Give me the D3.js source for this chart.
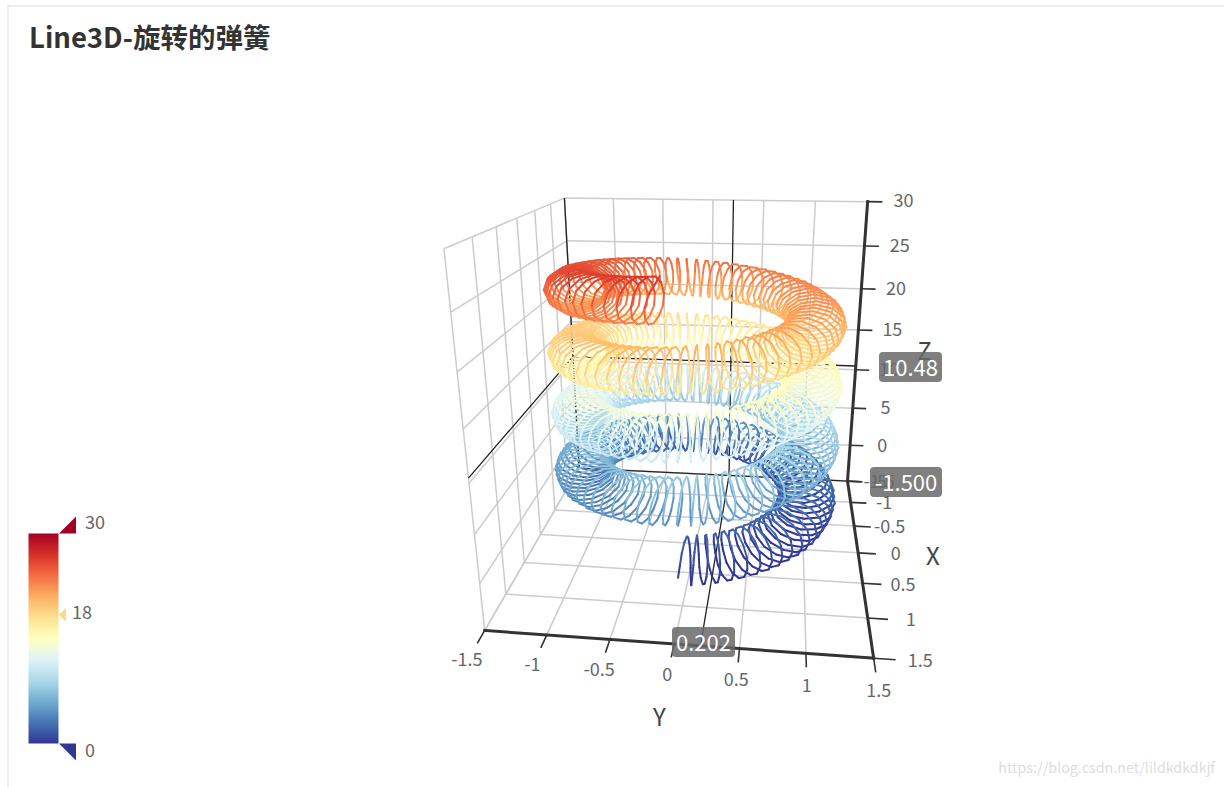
<!DOCTYPE html>
<html><head><meta charset="utf-8">
<script src="https://cdn.jsdelivr.net/npm/d3@7"></script>
<style>html,body{margin:0;padding:0;background:#fff;overflow:hidden}svg{display:block}</style>
</head><body><svg id="c" width="1224" height="787"></svg>
<script>
const titleText = "Line3D-旋转的弹簧";
const watermarkText = "https://blog.csdn.net/lildkdkdkjf";
const xyTicks = [-1.5,-1,-0.5,0,0.5,1,1.5];
const zTicks = [-5,0,5,10,15,20,25,30];
const palette = ['#313695','#4575b4','#74add1','#abd9e9','#e0f3f8','#ffffbf','#fee090','#fdae61','#f46d43','#d73027','#a50026'];
const pointerValues = {x:-1.5, y:0.202, z:10.48};
const legendRange = [0,30];
const legendIndicator = 18.4;

// Spring samples: one turn of x and y, z for the whole length
const xPerTurn = [1.25,1,.75,1,1.25,.99,.74,.99,1.23,.98,.73,.97,1.21,.96,.72,.95,1.17,.93,.69,.92,1.13,.9,.67,.88,1.08,.85,.63,.83,1.02,.81,.59,.78,.96,.75,.55,.72,.88,.69,.51,.66,.8,.63,.46,.59,.72,.56,.4,.52,.63,.48,.35,.44,.53,.4,.29,.36,.43,.32,.23,.28,.32,.24,.16,.2,.22,.15,.1,.11,.11,.07,.03,.02,
0,-.02,-.03,-.07,-.11,-.11,-.1,-.15,-.22,-.2,-.16,-.24,-.32,-.28,-.23,-.32,-.43,-.36,-.29,-.4,-.53,-.44,-.35,-.48,-.63,-.52,-.4,-.56,-.72,-.59,-.46,-.63,-.8,-.66,-.51,-.69,-.88,-.72,-.55,-.75,-.96,-.78,-.59,-.81,-1.02,-.83,-.63,-.85,-1.08,-.88,-.67,-.9,-1.13,-.92,-.69,-.93,-1.17,-.95,-.72,-.96,-1.21,-.97,-.73,-.99,-1.23,-.99,-.74,-.99,-1.25,-1,-.75,-1,
-1.25,-1,-.75,-1,-1.25,-.99,-.74,-.99,-1.23,-.98,-.73,-.97,-1.21,-.96,-.72,-.95,-1.17,-.93,-.69,-.92,-1.13,-.9,-.67,-.88,-1.08,-.85,-.63,-.83,-1.02,-.81,-.59,-.78,-.96,-.75,-.55,-.72,-.88,-.69,-.51,-.66,-.8,-.63,-.46,-.59,-.72,-.56,-.4,-.52,-.63,-.48,-.35,-.44,-.53,-.4,-.29,-.36,-.43,-.32,-.23,-.28,-.32,-.24,-.16,-.2,-.22,-.15,-.1,-.11,-.11,-.07,-.03,-.02,
0,.02,.03,.07,.11,.11,.1,.15,.22,.2,.16,.24,.32,.28,.23,.32,.43,.36,.29,.4,.53,.44,.35,.48,.63,.52,.4,.56,.72,.59,.46,.63,.8,.66,.51,.69,.88,.72,.55,.75,.96,.78,.59,.81,1.02,.83,.63,.85,1.08,.88,.67,.9,1.13,.92,.69,.93,1.17,.95,.72,.96,1.21,.97,.73,.99,1.23,.99,.74,.99,1.25,1,.75,1];
const yPerTurn = [0,.02,.03,.07,.11,.11,.1,.15,.22,.2,.16,.24,.32,.28,.23,.32,.43,.36,.29,.4,.53,.44,.35,.48,.63,.52,.4,.56,.72,.59,.46,.63,.8,.66,.51,.69,.88,.72,.55,.75,.96,.78,.59,.81,1.02,.83,.63,.85,1.08,.88,.67,.9,1.13,.92,.69,.93,1.17,.95,.72,.96,1.21,.97,.73,.99,1.23,.99,.74,.99,1.25,1,.75,1,
1.25,1,.75,1,1.25,.99,.74,.99,1.23,.98,.73,.97,1.21,.96,.72,.95,1.17,.93,.69,.92,1.13,.9,.67,.88,1.08,.85,.63,.83,1.02,.81,.59,.78,.96,.75,.55,.72,.88,.69,.51,.66,.8,.63,.46,.59,.72,.56,.4,.52,.63,.48,.35,.44,.53,.4,.29,.36,.43,.32,.23,.28,.32,.24,.16,.2,.22,.15,.1,.11,.11,.07,.03,.02,
0,-.02,-.03,-.07,-.11,-.11,-.1,-.15,-.22,-.2,-.16,-.24,-.32,-.28,-.23,-.32,-.43,-.36,-.29,-.4,-.53,-.44,-.35,-.48,-.63,-.52,-.4,-.56,-.72,-.59,-.46,-.63,-.8,-.66,-.51,-.69,-.88,-.72,-.55,-.75,-.96,-.78,-.59,-.81,-1.02,-.83,-.63,-.85,-1.08,-.88,-.67,-.9,-1.13,-.92,-.69,-.93,-1.17,-.95,-.72,-.96,-1.21,-.97,-.73,-.99,-1.23,-.99,-.74,-.99,-1.25,-1,-.75,-1,
-1.25,-1,-.75,-1,-1.25,-.99,-.74,-.99,-1.23,-.98,-.73,-.97,-1.21,-.96,-.72,-.95,-1.17,-.93,-.69,-.92,-1.13,-.9,-.67,-.88,-1.08,-.85,-.63,-.83,-1.02,-.81,-.59,-.78,-.96,-.75,-.55,-.72,-.88,-.69,-.51,-.66,-.8,-.63,-.46,-.59,-.72,-.56,-.4,-.52,-.63,-.48,-.35,-.44,-.53,-.4,-.29,-.36,-.43,-.32,-.23,-.28,-.32,-.24,-.16,-.2,-.22,-.15,-.1,-.11,-.11,-.07,-.03,-.02];
const zValues = [0,2.02,.04,-1.93,.09,2.11,.13,-1.84,.17,2.19,.21,-1.76,.26,2.28,.3,-1.67,.35,2.37,.39,-1.58,.44,2.46,.48,-1.49,.52,2.54,.56,-1.41,.61,2.63,.65,-1.32,
.7,2.72,.74,-1.23,.79,2.81,.83,-1.14,.87,2.89,.91,-1.06,.96,2.98,1,-.97,1.05,3.07,1.09,-.88,1.13,3.15,1.17,-.8,1.22,3.24,1.26,-.71,1.31,3.33,1.35,-.62,
1.4,3.42,1.44,-.53,1.48,3.5,1.52,-.45,1.57,3.59,1.61,-.36,1.66,3.68,1.7,-.27,1.75,3.77,1.79,-.18,1.83,3.85,1.87,-.1,1.92,3.94,1.96,-.01,2.01,4.03,2.05,.08,
2.09,4.11,2.13,.16,2.18,4.2,2.22,.25,2.27,4.29,2.31,.34,2.36,4.38,2.4,.43,2.44,4.46,2.48,.51,2.53,4.55,2.57,.6,2.62,4.64,2.66,.69,2.71,4.73,2.75,.78,
2.79,4.81,2.83,.86,2.88,4.9,2.92,.95,2.97,4.99,3.01,1.04,3.05,5.07,3.09,1.12,3.14,5.16,3.18,1.21,3.23,5.25,3.27,1.3,3.32,5.34,3.36,1.39,3.4,5.42,3.44,1.47,
3.49,5.51,3.53,1.56,3.58,5.6,3.62,1.65,3.67,5.69,3.71,1.74,3.75,5.77,3.79,1.82,3.84,5.86,3.88,1.91,3.93,5.95,3.97,2,4.01,6.03,4.05,2.08,4.1,6.12,4.14,2.17,
4.19,6.21,4.23,2.26,4.28,6.3,4.32,2.35,4.36,6.38,4.4,2.43,4.45,6.47,4.49,2.52,4.54,6.56,4.58,2.61,4.63,6.65,4.67,2.7,4.71,6.73,4.75,2.78,4.8,6.82,4.84,2.87,
4.89,6.91,4.93,2.96,4.97,6.99,5.01,3.04,5.06,7.08,5.1,3.13,5.15,7.17,5.19,3.22,5.24,7.26,5.28,3.31,5.32,7.34,5.36,3.39,5.41,7.43,5.45,3.48,5.5,7.52,5.54,3.57,
5.59,7.61,5.63,3.66,5.67,7.69,5.71,3.74,5.76,7.78,5.8,3.83,5.85,7.87,5.89,3.92,5.93,7.95,5.97,4,6.02,8.04,6.06,4.09,6.11,8.13,6.15,4.18,6.2,8.22,6.24,4.27,
6.28,8.3,6.32,4.35,6.37,8.39,6.41,4.44,6.45,8.47,6.49,4.52,6.54,8.56,6.58,4.61,6.63,8.65,6.67,4.7,6.72,8.74,6.76,4.79,6.8,8.82,6.84,4.87,6.89,8.91,6.93,4.96,
6.98,9,7.02,5.05,7.07,9.09,7.11,5.14,7.15,9.17,7.19,5.22,7.24,9.26,7.28,5.31,7.33,9.35,7.37,5.4,7.41,9.43,7.45,5.48,7.5,9.52,7.54,5.57,7.59,9.61,7.63,5.66,
7.68,9.7,7.72,5.75,7.76,9.78,7.8,5.83,7.85,9.87,7.89,5.92,7.94,9.96,7.98,6.01,8.03,10.05,8.07,6.1,8.11,10.13,8.15,6.18,8.2,10.22,8.24,6.27,8.29,10.31,8.33,6.36,
8.37,10.39,8.41,6.44,8.46,10.48,8.5,6.53,8.55,10.57,8.59,6.62,8.64,10.66,8.68,6.71,8.72,10.74,8.76,6.79,8.81,10.83,8.85,6.88,8.9,10.92,8.94,6.97,8.99,11.01,9.03,7.06,
9.07,11.09,9.11,7.14,9.16,11.18,9.2,7.23,9.25,11.27,9.29,7.32,9.33,11.35,9.37,7.4,9.42,11.44,9.46,7.49,9.51,11.53,9.55,7.58,9.6,11.62,9.64,7.67,9.68,11.7,9.72,7.75,
9.77,11.79,9.81,7.84,9.86,11.88,9.9,7.93,9.95,11.97,9.99,8.02,10.03,12.05,10.07,8.1,10.12,12.14,10.16,8.19,10.21,12.23,10.25,8.28,10.29,12.31,10.33,8.36,10.38,12.4,10.42,8.45,
10.47,12.49,10.51,8.54,10.56,12.58,10.6,8.63,10.64,12.66,10.68,8.71,10.73,12.75,10.77,8.8,10.82,12.84,10.86,8.89,10.91,12.93,10.95,8.98,10.99,13.01,11.03,9.06,11.08,13.1,11.12,9.15,
11.17,13.19,11.21,9.24,11.25,13.27,11.29,9.32,11.34,13.36,11.38,9.41,11.43,13.45,11.47,9.5,11.52,13.54,11.56,9.59,11.6,13.62,11.64,9.67,11.69,13.71,11.73,9.76,11.78,13.8,11.82,9.85,
11.87,13.89,11.91,9.94,11.95,13.97,11.99,10.02,12.04,14.06,12.08,10.11,12.13,14.15,12.17,10.2,12.21,14.23,12.25,10.28,12.3,14.32,12.34,10.37,12.39,14.41,12.43,10.46,12.48,14.5,12.52,10.55,
12.57,14.59,12.61,10.64,12.66,14.68,12.7,10.73,12.74,14.76,12.78,10.81,12.83,14.85,12.87,10.9,12.92,14.94,12.96,10.99,13.01,15.03,13.05,11.08,13.09,15.11,13.13,11.16,13.18,15.2,13.22,11.25,
13.27,15.29,13.31,11.34,13.36,15.38,13.4,11.43,13.44,15.46,13.48,11.51,13.53,15.55,13.57,11.6,13.62,15.64,13.66,11.69,13.7,15.72,13.74,11.77,13.79,15.81,13.83,11.86,13.88,15.9,13.92,11.95,
13.97,15.99,14.01,12.04,14.05,16.07,14.09,12.12,14.14,16.16,14.18,12.21,14.23,16.25,14.27,12.3,14.32,16.34,14.36,12.39,14.4,16.42,14.44,12.47,14.49,16.51,14.53,12.56,14.58,16.6,14.62,12.65,
14.66,16.68,14.7,12.73,14.75,16.77,14.79,12.82,14.84,16.86,14.88,12.91,14.93,16.95,14.97,13,15.01,17.03,15.05,13.08,15.1,17.12,15.14,13.17,15.19,17.21,15.23,13.26,15.28,17.3,15.32,13.35,
15.36,17.38,15.4,13.43,15.45,17.47,15.49,13.52,15.54,17.56,15.58,13.61,15.62,17.64,15.66,13.69,15.71,17.73,15.75,13.78,15.8,17.82,15.84,13.87,15.89,17.91,15.93,13.96,15.97,17.99,16.01,14.04,
16.06,18.08,16.1,14.13,16.15,18.17,16.19,14.22,16.24,18.26,16.28,14.31,16.32,18.34,16.36,14.39,16.41,18.43,16.45,14.48,16.5,18.52,16.54,14.57,16.58,18.6,16.62,14.65,16.67,18.69,16.71,14.74,
16.76,18.78,16.8,14.83,16.85,18.87,16.89,14.92,16.93,18.95,16.97,15,17.02,19.04,17.06,15.09,17.11,19.13,17.15,15.18,17.2,19.22,17.24,15.27,17.28,19.3,17.32,15.35,17.37,19.39,17.41,15.44,
17.46,19.48,17.5,15.53,17.54,19.56,17.58,15.61,17.63,19.65,17.67,15.7,17.72,19.74,17.76,15.79,17.81,19.83,17.85,15.88,17.89,19.91,17.93,15.96,17.98,20,18.02,16.05,18.07,20.09,18.11,16.14,
18.16,20.18,18.2,16.23,18.24,20.26,18.28,16.31,18.33,20.35,18.37,16.4,18.42,20.44,18.46,16.49,18.5,20.52,18.54,16.57,18.59,20.61,18.63,16.66,18.68,20.7,18.72,16.75,18.77,20.79,18.81,16.84,
18.85,20.87,18.89,16.92,18.94,20.96,18.98,17.01,19.02,21.04,19.06,17.09,19.11,21.13,19.15,17.18,19.2,21.22,19.24,17.27,19.29,21.31,19.33,17.36,19.37,21.39,19.41,17.44,19.46,21.48,19.5,17.53,
19.55,21.57,19.59,17.62,19.64,21.66,19.68,17.71,19.72,21.74,19.76,17.79,19.81,21.83,19.85,17.88,19.9,21.92,19.94,17.97,19.98,22,20.02,18.05,20.07,22.09,20.11,18.14,20.16,22.18,20.2,18.23,
20.25,22.27,20.29,18.32,20.33,22.35,20.37,18.4,20.42,22.44,20.46,18.49,20.51,22.53,20.55,18.58,20.6,22.62,20.64,18.67,20.68,22.7,20.72,18.75,20.77,22.79,20.81,18.84,20.86,22.88,20.9,18.93,
20.94,22.96,20.98,19.01,21.03,23.05,21.07,19.1,21.12,23.14,21.16,19.19,21.21,23.23,21.25,19.28,21.29,23.31,21.33,19.36,21.38,23.4,21.42,19.45,21.47,23.49,21.51,19.54,21.56,23.58,21.6,19.63,
21.64,23.66,21.68,19.71,21.73,23.75,21.77,19.8,21.82,23.84,21.86,19.89,21.9,23.92,21.94,19.97,21.99,24.01,22.03,20.06,22.08,24.1,22.12,20.15,22.17,24.19,22.21,20.24,22.25,24.27,22.29,20.32,
22.34,24.36,22.38,20.41,22.43,24.45,22.47,20.5,22.52,24.54,22.56,20.59,22.6,24.62,22.64,20.67,22.69,24.71,22.73,20.76,22.78,24.8,22.82,20.85,22.86,24.88,22.9,20.93,22.95,24.97,22.99,21.02,
23.04,25.06,23.08,21.11,23.13,25.15,23.17,21.2,23.21,25.23,23.25,21.28,23.3,25.32,23.34,21.37,23.39,25.41,23.43,21.46,23.48,25.5,23.52,21.55,23.56,25.58,23.6,21.63,23.65,25.67,23.69,21.72,
23.74,25.76,23.78,21.81,23.82,25.84,23.86,21.89,23.91,25.93,23.95,21.98,24,26.02,24.04,22.07,24.09,26.11,24.13,22.16,24.17,26.19,24.21,22.24,24.26,26.28,24.3,22.33,24.35,26.37,24.39,22.42,
24.44,26.46,24.48,22.51,24.52,26.54,24.56,22.59,24.61,26.63,24.65,22.68,24.7,26.72,24.74,22.77,24.78,26.8,24.82,22.85,24.87,26.89,24.91,22.94,24.96,26.98];

const FONT = '"Noto Sans CJK SC","Noto Sans",sans-serif';
const svg = d3.select('#c');

// scales: data -> normalised box coordinates
const sx = d3.scaleLinear().domain([-1.5,1.5]).range([-1,1]);
const sy = d3.scaleLinear().domain([-1.5,1.5]).range([-1,1]);
const sz = d3.scaleLinear().domain([-5,30]).range([-1,1]);
const color = d3.scaleLinear().domain(d3.range(11).map(i=>i*3)).range(palette).clamp(true);

// camera: fitted to the visible corners of the 3D box (layout, not data)
const corners = [
 [ 1.5, 1.5,-5,873.3,658.3],[ 1.5,-1.5,-5,485,630.7],[-1.5, 1.5,-5,847.7,481],[-1.5,-1.5,-5,579,468],
 [-1.5, 1.5,30,867.7,201.7],[-1.5,-1.5,30,564.3,198.3],[ 1.5,-1.5,30,444,248.3]];
function solve(A,b){const n=b.length,M=A.map((r,i)=>[...r,b[i]]);
 for(let c=0;c<n;c++){let p=c;for(let r=c+1;r<n;r++)if(Math.abs(M[r][c])>Math.abs(M[p][c]))p=r;[M[c],M[p]]=[M[p],M[c]];
  for(let r=0;r<n;r++)if(r!==c){const f=M[r][c]/M[c][c];for(let k=c;k<=n;k++)M[r][k]-=f*M[c][k];}}
 return M.map((r,i)=>r[n]/r[i]);}
const H=(()=>{const R=[],B=[];corners.forEach(([x,y,z,u,v])=>{const X=sx(x),Y=sy(y),Z=sz(z);
 R.push([X,Y,Z,1,0,0,0,0,-u*X,-u*Y,-u*Z]);B.push(u);R.push([0,0,0,0,X,Y,Z,1,-v*X,-v*Y,-v*Z]);B.push(v);});
 const AtA=d3.range(11).map(i=>d3.range(11).map(j=>d3.sum(R,r=>r[i]*r[j])));
 const Atb=d3.range(11).map(i=>d3.sum(R,(r,k)=>r[i]*B[k]));return solve(AtA,Atb);})();
function projN(X,Y,Z){const w=H[8]*X+H[9]*Y+H[10]*Z+1;return [(H[0]*X+H[1]*Y+H[2]*Z+H[3])/w,(H[4]*X+H[5]*Y+H[6]*Z+H[7])/w,w];}
const proj=(x,y,z)=>projN(sx(x),sy(y),sz(z));
const lineGen=d3.line();
const seg=(a,b)=>lineGen([proj(...a),proj(...b)].map(p=>[p[0],p[1]]));

// frame
svg.append('path').attr('d','M8 787V6H1224').attr('fill','none').attr('stroke','#eee').attr('stroke-width',2);

// grid walls
const grid=svg.append('g').attr('stroke','#ccc').attr('stroke-width',1.5).attr('fill','none');
const gridSegs=[];
xyTicks.forEach(v=>{
 gridSegs.push([[v,-1.5,-5],[v,1.5,-5]],[[-1.5,v,-5],[1.5,v,-5]],[[-1.5,v,-5],[-1.5,v,30]],[[v,-1.5,-5],[v,-1.5,30]]);});
zTicks.forEach(v=>{gridSegs.push([[-1.5,-1.5,v],[-1.5,1.5,v]],[[-1.5,-1.5,v],[1.5,-1.5,v]]);});
grid.selectAll('path').data(gridSegs).join('path').attr('d',d=>seg(d[0],d[1]));

// pointer lines
const P=pointerValues;
const ptrSegs=[[[1.5,P.y,-5],[-1.5,P.y,-5]],[[-1.5,P.y,-5],[-1.5,P.y,30]],[[-1.5,-1.5,P.z],[-1.5,1.5,P.z]],[[1.5,-1.5,P.z],[-1.5,-1.5,P.z]],
 [[P.x,-1.5,-5],[P.x,1.5,-5]],[[P.x,-1.5,-5],[P.x,-1.5,30]]];
svg.append('g').attr('stroke','#222').attr('stroke-width',1.3).attr('fill','none')
 .selectAll('path').data(ptrSegs).join('path').attr('d',d=>seg(d[0],d[1]));

// axes and ticks
const axisSegs=[[[1.5,-1.5,-5],[1.5,1.5,-5]],[[1.5,1.5,-5],[-1.5,1.5,-5]],[[-1.5,1.5,-5],[-1.5,1.5,30]]];
const axes=svg.append('g').attr('stroke','#333').attr('fill','none');
axes.selectAll('path.a').data(axisSegs).join('path').attr('class','a').attr('stroke-width',3).attr('stroke-linecap','square').attr('d',d=>seg(d[0],d[1]));
const tickSegs=[...xyTicks.map(v=>[[1.5,v,-5],[1.66,v,-5]]),...xyTicks.map(v=>[[v,1.5,-5],[v,1.66,-5]]),...zTicks.map(v=>[[-1.5,1.5,v],[-1.5,1.64,v]])];
axes.selectAll('path.t').data(tickSegs).join('path').attr('class','t').attr('stroke-width',1.6).attr('d',d=>seg(d[0],d[1]));

// tick labels
const labels=[...xyTicks.map(v=>({t:v,p:[1.87,v,-5]})),...xyTicks.map(v=>({t:v,p:[v,1.84,-5]})),...zTicks.map(v=>({t:v,p:[-1.5,1.84,v]}))];
svg.append('g').attr('font-family',FONT).attr('font-size',18).attr('fill','#666').attr('text-anchor','middle').attr('dominant-baseline','central')
 .selectAll('text').data(labels).join('text').text(d=>d.t).attr('x',d=>proj(...d.p)[0]).attr('y',d=>proj(...d.p)[1]-3);
const names=[{t:'X',p:[0,2.17,-5]},{t:'Y',p:[2.3,0.01,-5]},{t:'Z',p:[-1.5,2.18,12.5]}];
svg.append('g').attr('font-family',FONT).attr('font-size',24).attr('fill','#444').attr('text-anchor','middle').attr('dominant-baseline','central')
 .selectAll('text').data(names).join('text').text(d=>d.t).attr('x',d=>proj(...d.p)[0]).attr('y',d=>proj(...d.p)[1]-3);

// spring: samples go through the scales, curved between samples, painted far to near
const pts=zValues.map((z,i)=>[sx(xPerTurn[i%288]),sy(yPerTurn[i%288]),sz(z),z]);
const TAN=0.83, SUB=3, pieces=[];
for(let i=0;i<pts.length-1;i++){
 const p0=pts[Math.max(i-1,0)],p1=pts[i],p2=pts[i+1],p3=pts[Math.min(i+2,pts.length-1)];
 const herm=s=>{const s2=s*s,s3=s2*s,h00=2*s3-3*s2+1,h10=s3-2*s2+s,h01=-2*s3+3*s2,h11=s3-s2;
  return [0,1,2,3].map(k=>h00*p1[k]+h10*TAN*(p2[k]-p0[k])+h01*p2[k]+h11*TAN*(p3[k]-p1[k]));};
 for(let j=0;j<SUB;j++){const a=herm(j/SUB),b=herm((j+1)/SUB),A=projN(a[0],a[1],a[2]),B=projN(b[0],b[1],b[2]);
  pieces.push({a:[A[0],A[1]],b:[B[0],B[1]],w:(A[2]+B[2])/2,v:(a[3]+b[3])/2});}
}
pieces.sort((p,q)=>q.w-p.w);
svg.append('g').attr('fill','none').attr('stroke-width',2).attr('stroke-linecap','round')
 .selectAll('path').data(pieces).join('path').attr('d',d=>lineGen([d.a,d.b])).attr('stroke',d=>color(d.v));

// pointer value labels
const ptrBoxes=[{t:P.z.toFixed(2),x:879,y:352,w:63,h:30},{t:P.x.toFixed(3),x:870,y:467,w:72,h:30},{t:P.y.toFixed(3),x:672,y:627,w:63,h:30}];
const pb=svg.append('g').attr('font-family',FONT).attr('font-size',22);
pb.selectAll('rect').data(ptrBoxes).join('rect').attr('x',d=>d.x).attr('y',d=>d.y).attr('width',d=>d.w).attr('height',d=>d.h).attr('rx',4).attr('fill','rgba(105,105,105,.85)');
pb.selectAll('text').data(ptrBoxes).join('text').text(d=>d.t).attr('fill','#fff').attr('text-anchor','middle').attr('dominant-baseline','central').attr('x',d=>d.x+d.w/2).attr('y',d=>d.y+d.h/2-1);

// title and watermark
svg.append('text').text(titleText).attr('x',29).attr('y',48).attr('font-family',FONT).attr('font-weight',700).attr('font-size',27.5).attr('fill','#333');
svg.append('text').text(watermarkText).attr('x',1215).attr('y',773).attr('text-anchor','end').attr('font-family',FONT).attr('font-size',14.3).attr('fill','#ddd');

// legend
const ly=d3.scaleLinear().domain(legendRange).range([743.5,533.5]);
const defs=svg.append('defs');
const lg=defs.append('linearGradient').attr('id','lg').attr('x1',0).attr('x2',0).attr('y1',1).attr('y2',0);
lg.selectAll('stop').data(palette).join('stop').attr('offset',(d,i)=>i/10).attr('stop-color',d=>d);
const legend=svg.append('g').attr('font-family',FONT).attr('font-size',18).attr('fill','#666');
legend.append('rect').attr('x',28.5).attr('y',ly(30)).attr('width',30).attr('height',ly(0)-ly(30)).attr('fill','url(#lg)');
legend.append('path').attr('d',`M59 ${ly(30)}L76 ${ly(30)-17}V${ly(30)}Z`).attr('fill',color(30));
legend.append('path').attr('d',`M59 ${ly(0)}H76V${ly(0)+17}Z`).attr('fill',color(0));
legend.append('path').attr('d',`M59 ${ly(legendIndicator)}L66 ${ly(legendIndicator)-7}V${ly(legendIndicator)+7}Z`).attr('fill',color(legendIndicator));
legend.append('text').text(legendRange[1]).attr('x',85).attr('y',521).attr('dominant-baseline','central');
legend.append('text').text(d3.format('.0f')(legendIndicator)).attr('x',72).attr('y',611).attr('dominant-baseline','central');
legend.append('text').text(legendRange[0]).attr('x',85).attr('y',749).attr('dominant-baseline','central');
</script></body></html>
